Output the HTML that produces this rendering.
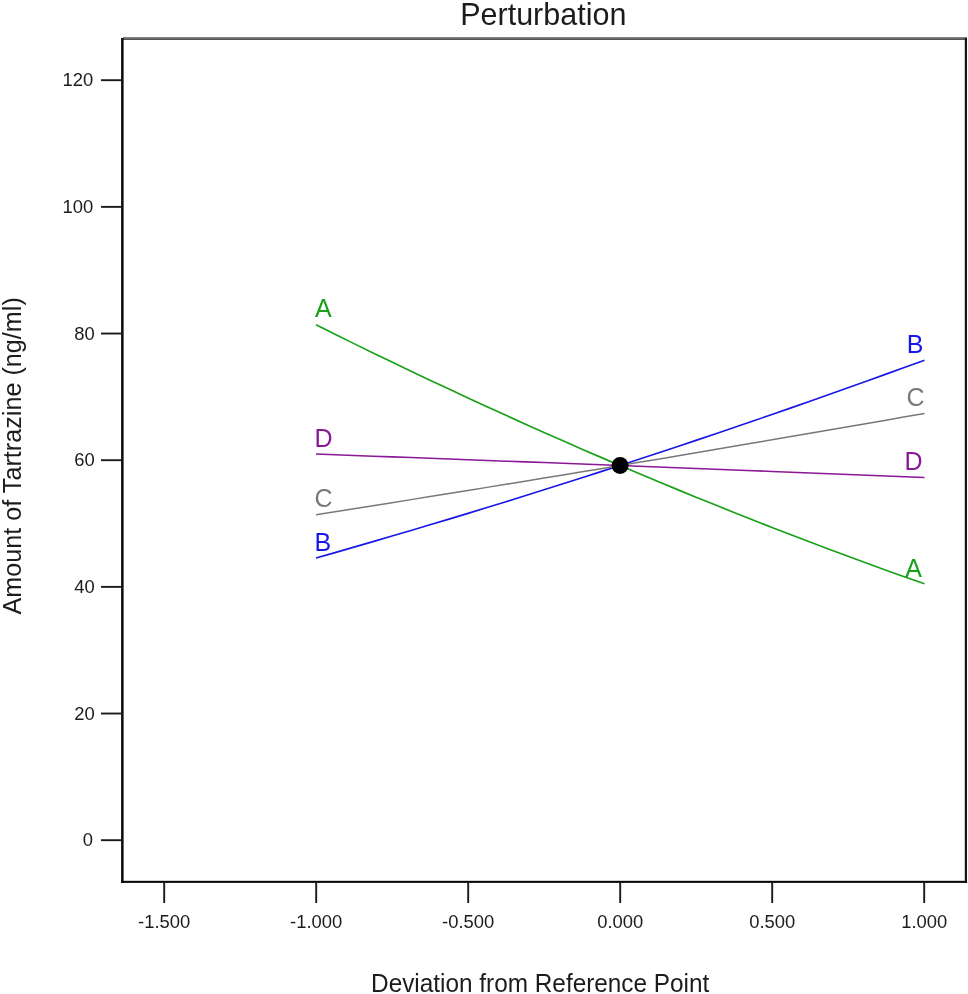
<!DOCTYPE html>
<html lang="en"><head><meta charset="utf-8"><title>Perturbation</title>
<style>
html,body{margin:0;padding:0;background:#fff;}
body{width:968px;height:994px;overflow:hidden;}
svg{display:block;}
text{font-family:"Liberation Sans",sans-serif;}
.tick{font-size:18.4px;fill:#1c1c1c;}
.ttl{font-size:24.4px;fill:#1c1c1c;}
.lab{font-size:25px;}
</style></head><body>
<svg width="968" height="994" viewBox="0 0 968 994">
<defs><linearGradient id="tg" x1="0" y1="0" x2="0" y2="1"><stop offset="0" stop-color="#8c8c8c"/><stop offset="1" stop-color="#4a4a4a"/></linearGradient></defs>
<rect x="0" y="0" width="968" height="994" fill="#ffffff"/>
<text x="543.3" y="25" text-anchor="middle" font-size="30.5" fill="#1c1c1c">Perturbation</text>

<rect x="123" y="37" width="844" height="3" fill="url(#tg)"/>
<rect x="121.1" y="38" width="2.5" height="845" fill="#0a0a0a"/>
<rect x="964.8" y="38" width="2.2" height="845" fill="#141414"/>
<rect x="121.1" y="880.8" width="846" height="2.1" fill="#0a0a0a"/>
<rect x="101" y="839.25" width="21" height="1.9" fill="#1a1a1a"/>
<text class="tick" x="93.1" y="846.20" text-anchor="end">0</text>
<rect x="101" y="712.58" width="21" height="1.9" fill="#1a1a1a"/>
<text class="tick" x="94.8" y="719.53" text-anchor="end">20</text>
<rect x="101" y="585.92" width="21" height="1.9" fill="#1a1a1a"/>
<text class="tick" x="94.8" y="592.87" text-anchor="end">40</text>
<rect x="101" y="459.25" width="21" height="1.9" fill="#1a1a1a"/>
<text class="tick" x="94.8" y="466.20" text-anchor="end">60</text>
<rect x="101" y="332.58" width="21" height="1.9" fill="#1a1a1a"/>
<text class="tick" x="94.8" y="339.53" text-anchor="end">80</text>
<rect x="101" y="205.92" width="21" height="1.9" fill="#1a1a1a"/>
<text class="tick" x="93.2" y="212.87" text-anchor="end">100</text>
<rect x="101" y="79.25" width="21" height="1.9" fill="#1a1a1a"/>
<text class="tick" x="93.2" y="86.20" text-anchor="end">120</text>
<rect x="163.25" y="882" width="1.9" height="21" fill="#1a1a1a"/>
<text class="tick" x="164.20" y="928" text-anchor="middle">-1.500</text>
<rect x="315.25" y="882" width="1.9" height="21" fill="#1a1a1a"/>
<text class="tick" x="316.20" y="928" text-anchor="middle">-1.000</text>
<rect x="467.25" y="882" width="1.9" height="21" fill="#1a1a1a"/>
<text class="tick" x="468.20" y="928" text-anchor="middle">-0.500</text>
<rect x="619.25" y="882" width="1.9" height="21" fill="#1a1a1a"/>
<text class="tick" x="620.20" y="928" text-anchor="middle">0.000</text>
<rect x="771.25" y="882" width="1.9" height="21" fill="#1a1a1a"/>
<text class="tick" x="772.20" y="928" text-anchor="middle">0.500</text>
<rect x="923.25" y="882" width="1.9" height="21" fill="#1a1a1a"/>
<text class="tick" x="924.20" y="928" text-anchor="middle">1.000</text>
<text class="ttl" x="540.2" y="992" text-anchor="middle" style="font-size:25.4px" textLength="338.3" lengthAdjust="spacingAndGlyphs">Deviation from Reference Point</text>
<text class="ttl" transform="translate(21.2,455.85) rotate(-90)" text-anchor="middle" style="font-size:25.2px">Amount of Tartrazine (ng/ml)</text>
<path d="M316.00,324.80 L335.00,334.25 L354.00,343.62 L373.00,352.90 L392.00,362.08 L411.00,371.19 L430.00,380.20 L449.00,389.12 L468.00,397.96 L487.00,406.71 L506.00,415.37 L525.00,423.95 L544.00,432.43 L563.00,440.83 L582.00,449.14 L601.00,457.37 L620.00,465.50 L639.00,473.55 L658.00,481.51 L677.00,489.38 L696.00,497.16 L715.00,504.85 L734.00,512.46 L753.00,519.98 L772.00,527.41 L791.00,534.76 L810.00,542.01 L829.00,549.18 L848.00,556.26 L867.00,563.25 L886.00,570.16 L905.00,576.97 L924.50,583.70" fill="none" stroke="#18a018" stroke-width="1.65"/>
<path d="M316.00,558.00 L335.00,552.59 L354.00,547.13 L373.00,541.62 L392.00,536.07 L411.00,530.46 L430.00,524.80 L449.00,519.09 L468.00,513.34 L487.00,507.53 L506.00,501.68 L525.00,495.77 L544.00,489.82 L563.00,483.81 L582.00,477.76 L601.00,471.65 L620.00,465.50 L639.00,459.30 L658.00,453.04 L677.00,446.74 L696.00,440.39 L715.00,433.99 L734.00,427.54 L753.00,421.04 L772.00,414.49 L791.00,407.89 L810.00,401.24 L829.00,394.54 L848.00,387.79 L867.00,380.99 L886.00,374.14 L905.00,367.25 L924.50,360.30" fill="none" stroke="#1818e6" stroke-width="1.65"/>
<path d="M316.00,514.70 L335.00,511.71 L354.00,508.70 L373.00,505.69 L392.00,502.66 L411.00,499.63 L430.00,496.58 L449.00,493.52 L468.00,490.45 L487.00,487.37 L506.00,484.28 L525.00,481.18 L544.00,478.06 L563.00,474.94 L582.00,471.80 L601.00,468.66 L620.00,465.50 L639.00,462.33 L658.00,459.15 L677.00,455.96 L696.00,452.76 L715.00,449.55 L734.00,446.33 L753.00,443.09 L772.00,439.85 L791.00,436.59 L810.00,433.33 L829.00,430.05 L848.00,426.76 L867.00,423.46 L886.00,420.15 L905.00,416.83 L924.50,413.50" fill="none" stroke="#787878" stroke-width="1.5"/>
<path d="M316.00,454.10 L335.00,454.79 L354.00,455.49 L373.00,456.19 L392.00,456.89 L411.00,457.60 L430.00,458.30 L449.00,459.01 L468.00,459.72 L487.00,460.44 L506.00,461.15 L525.00,461.87 L544.00,462.59 L563.00,463.32 L582.00,464.04 L601.00,464.77 L620.00,465.50 L639.00,466.23 L658.00,466.97 L677.00,467.70 L696.00,468.44 L715.00,469.19 L734.00,469.93 L753.00,470.68 L772.00,471.43 L791.00,472.18 L810.00,472.93 L829.00,473.69 L848.00,474.44 L867.00,475.20 L886.00,475.97 L905.00,476.73 L924.50,477.50" fill="none" stroke="#8a1896" stroke-width="1.55"/>
<circle cx="620.1" cy="465.6" r="8.5" fill="#000"/>
<text class="lab" fill="#18a018" x="315" y="316.8">A</text>
<text class="lab" fill="#8a1896" x="314.5" y="446.8">D</text>
<text class="lab" fill="#787878" x="314.5" y="507">C</text>
<text class="lab" fill="#1818e6" x="314.5" y="550.6">B</text>
<text class="lab" fill="#1818e6" x="923.5" y="352.9" text-anchor="end">B</text>
<text class="lab" fill="#787878" x="924.5" y="405.8" text-anchor="end">C</text>
<text class="lab" fill="#8a1896" x="922.6" y="470.1" text-anchor="end">D</text>
<text class="lab" fill="#18a018" x="922" y="576.5" text-anchor="end">A</text>
</svg></body></html>
